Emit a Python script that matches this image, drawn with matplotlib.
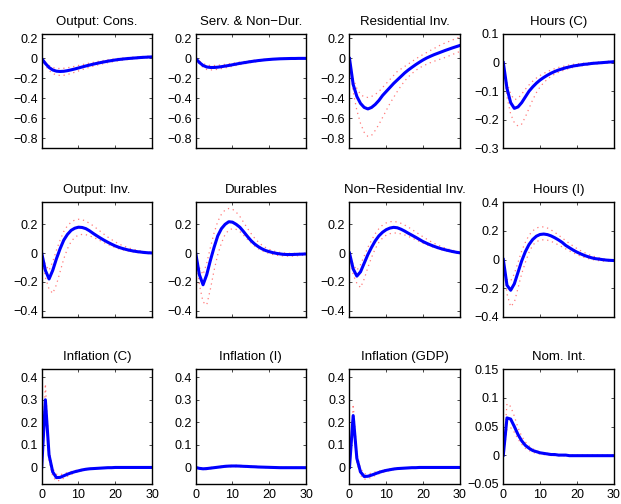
import matplotlib
matplotlib.use("Agg")
import matplotlib.pyplot as plt
import numpy as np
from matplotlib.ticker import FuncFormatter

plt.rcParams['font.family'] = ['Liberation Sans', 'DejaVu Sans']

t = np.arange(31)

titles = ['Output: Cons.', 'Serv. & Non\u2212Dur.', 'Residential Inv.', 'Hours (C)',
          'Output: Inv.', 'Durables', 'Non\u2212Residential Inv.', 'Hours (I)',
          'Inflation (C)', 'Inflation (I)', 'Inflation (GDP)', 'Nom. Int.']

# median responses
med_cons = [0, -0.05, -0.09, -0.115, -0.127, -0.13, -0.128, -0.122, -0.114, -0.105, -0.095, -0.085, -0.075, -0.066, -0.057, -0.049, -0.041, -0.034, -0.027, -0.021, -0.015, -0.010, -0.006, -0.002, 0.001, 0.004, 0.007, 0.010, 0.012, 0.014, 0.016]
med_serv = [0, -0.04, -0.07, -0.085, -0.09, -0.09, -0.087, -0.082, -0.076, -0.07, -0.063, -0.056, -0.049, -0.043, -0.037, -0.031, -0.026, -0.021, -0.017, -0.013, -0.01, -0.007, -0.005, -0.003, -0.002, -0.001, 0, 0, 0.001, 0.001, 0.001]
med_res = [0, -0.26, -0.38, -0.45, -0.49, -0.505, -0.49, -0.46, -0.42, -0.37, -0.33, -0.29, -0.25, -0.215, -0.18, -0.145, -0.115, -0.088, -0.062, -0.038, -0.015, 0.005, 0.022, 0.038, 0.052, 0.066, 0.08, 0.093, 0.106, 0.118, 0.13]
med_hc = [0, -0.09, -0.14, -0.16, -0.155, -0.14, -0.12, -0.1, -0.085, -0.072, -0.061, -0.052, -0.044, -0.037, -0.031, -0.026, -0.022, -0.018, -0.015, -0.012, -0.01, -0.008, -0.006, -0.005, -0.003, -0.002, -0.001, 0, 0.001, 0.002, 0.003]
med_inv = [0, -0.12, -0.18, -0.12, -0.04, 0.03, 0.09, 0.13, 0.158, 0.173, 0.18, 0.178, 0.17, 0.155, 0.137, 0.12, 0.104, 0.089, 0.075, 0.062, 0.05, 0.04, 0.032, 0.025, 0.019, 0.014, 0.01, 0.007, 0.004, 0.002, 0.001]
med_dur = [0, -0.15, -0.22, -0.15, -0.05, 0.04, 0.12, 0.17, 0.2, 0.218, 0.215, 0.2, 0.18, 0.15, 0.118, 0.088, 0.064, 0.045, 0.03, 0.018, 0.01, 0.003, -0.002, -0.006, -0.009, -0.01, -0.01, -0.009, -0.008, -0.007, -0.006]
med_nres = [0, -0.11, -0.16, -0.13, -0.07, -0.01, 0.04, 0.085, 0.12, 0.145, 0.163, 0.174, 0.179, 0.176, 0.166, 0.153, 0.138, 0.124, 0.11, 0.095, 0.08, 0.068, 0.057, 0.047, 0.038, 0.03, 0.023, 0.017, 0.011, 0.006, 0.002]
med_hi = [0, -0.18, -0.215, -0.17, -0.09, -0.01, 0.055, 0.105, 0.14, 0.163, 0.175, 0.178, 0.174, 0.165, 0.152, 0.137, 0.12, 0.098, 0.082, 0.066, 0.052, 0.04, 0.029, 0.02, 0.012, 0.006, 0.003, -0.001, -0.004, -0.006, -0.007]
med_pic = [0, 0.3, 0.055, -0.02, -0.045, -0.044, -0.037, -0.03, -0.024, -0.019, -0.015, -0.011, -0.008, -0.006, -0.005, -0.004, -0.003, -0.002, -0.001, -0.001, 0, 0, 0, 0, 0, 0, 0, 0, 0, 0, 0]
med_pii = [0, -0.004, -0.006, -0.005, -0.003, -0.001, 0.001, 0.003, 0.005, 0.006, 0.0065, 0.0065, 0.006, 0.005, 0.0045, 0.0035, 0.003, 0.002, 0.0015, 0.001, 0.0005, 0, -0.0005, -0.001, -0.001, -0.001, -0.001, -0.001, -0.001, -0.001, -0.001]
med_pig = [0, 0.23, 0.04, -0.02, -0.04, -0.039, -0.034, -0.028, -0.022, -0.017, -0.013, -0.01, -0.007, -0.005, -0.004, -0.003, -0.002, -0.001, -0.001, 0, 0, 0, 0, 0, 0, 0, 0, 0, 0, 0, 0]
med_r = [0, 0.065, 0.063, 0.05, 0.036, 0.025, 0.017, 0.012, 0.008, 0.006, 0.004, 0.003, 0.002, 0.001, 0.001, 0, 0, 0, -0.001, -0.001, -0.001, -0.001, -0.001, -0.001, -0.001, -0.001, -0.001, -0.001, -0.001, -0.001, -0.001]

# upper bands
up_cons = [0, -0.035, -0.07, -0.09, -0.1, -0.1, -0.098, -0.093, -0.086, -0.078, -0.07, -0.062, -0.054, -0.046, -0.039, -0.032, -0.025, -0.019, -0.013, -0.008, -0.003, 0.001, 0.005, 0.008, 0.011, 0.014, 0.017, 0.019, 0.021, 0.023, 0.025]
up_serv = [0, -0.025, -0.05, -0.065, -0.07, -0.07, -0.068, -0.064, -0.059, -0.054, -0.048, -0.042, -0.036, -0.031, -0.026, -0.021, -0.017, -0.013, -0.01, -0.007, -0.005, -0.003, -0.001, 0, 0.001, 0.002, 0.003, 0.003, 0.004, 0.004, 0.004]
up_res = [0, -0.2, -0.3, -0.36, -0.385, -0.39, -0.38, -0.36, -0.33, -0.29, -0.25, -0.21, -0.17, -0.13, -0.105, -0.08, -0.055, -0.03, -0.005, 0.018, 0.04, 0.06, 0.08, 0.1, 0.12, 0.14, 0.155, 0.17, 0.185, 0.2, 0.215]
up_hc = [0, -0.07, -0.11, -0.13, -0.125, -0.11, -0.093, -0.078, -0.065, -0.054, -0.045, -0.038, -0.031, -0.026, -0.021, -0.017, -0.014, -0.011, -0.008, -0.006, -0.004, -0.003, -0.002, -0.001, 0, 0.001, 0.002, 0.003, 0.004, 0.005, 0.006]
up_inv = [0, -0.08, -0.12, -0.06, 0.02, 0.09, 0.15, 0.19, 0.215, 0.23, 0.235, 0.232, 0.222, 0.207, 0.19, 0.17, 0.15, 0.13, 0.111, 0.094, 0.078, 0.064, 0.052, 0.042, 0.033, 0.026, 0.02, 0.015, 0.011, 0.008, 0.006]
up_dur = [0, -0.1, -0.15, -0.07, 0.04, 0.14, 0.22, 0.27, 0.3, 0.31, 0.305, 0.285, 0.255, 0.215, 0.175, 0.138, 0.105, 0.078, 0.056, 0.039, 0.026, 0.016, 0.009, 0.004, 0.001, -0.001, -0.002, -0.002, -0.002, -0.001, 0]
up_nres = [0, -0.08, -0.12, -0.08, -0.02, 0.04, 0.09, 0.135, 0.17, 0.195, 0.21, 0.218, 0.22, 0.216, 0.207, 0.195, 0.18, 0.164, 0.147, 0.13, 0.113, 0.097, 0.082, 0.068, 0.056, 0.045, 0.035, 0.027, 0.02, 0.014, 0.009]
up_hi = [0, -0.14, -0.15, -0.1, -0.02, 0.06, 0.12, 0.17, 0.2, 0.22, 0.228, 0.228, 0.22, 0.207, 0.19, 0.171, 0.151, 0.131, 0.112, 0.094, 0.077, 0.062, 0.049, 0.037, 0.027, 0.019, 0.012, 0.006, 0.002, -0.001, -0.003]
up_pic = [0, 0.37, 0.08, -0.005, -0.03, -0.032, -0.028, -0.023, -0.018, -0.014, -0.011, -0.008, -0.006, -0.004, -0.003, -0.002, -0.001, -0.001, 0, 0, 0, 0, 0, 0, 0, 0, 0, 0, 0, 0, 0]
up_pii = [0, -0.001, -0.002, -0.001, 0, 0.002, 0.004, 0.006, 0.008, 0.009, 0.0095, 0.0095, 0.009, 0.008, 0.007, 0.006, 0.005, 0.004, 0.003, 0.0025, 0.002, 0.0015, 0.001, 0.0005, 0, 0, 0, 0, 0, 0, 0]
up_pig = [0, 0.28, 0.06, -0.005, -0.028, -0.029, -0.025, -0.02, -0.016, -0.012, -0.009, -0.007, -0.005, -0.003, -0.002, -0.001, -0.001, 0, 0, 0, 0, 0, 0, 0, 0, 0, 0, 0, 0, 0, 0]
up_r = [0, 0.09, 0.085, 0.068, 0.048, 0.033, 0.023, 0.016, 0.011, 0.008, 0.005, 0.004, 0.003, 0.002, 0.001, 0.001, 0, 0, 0, 0, 0, 0, 0, 0, 0, 0, 0, 0, 0, 0, 0]

# lower bands
lo_cons = [0, -0.07, -0.12, -0.15, -0.165, -0.17, -0.168, -0.16, -0.15, -0.138, -0.125, -0.112, -0.1, -0.088, -0.077, -0.067, -0.058, -0.05, -0.042, -0.035, -0.028, -0.022, -0.017, -0.012, -0.008, -0.004, -0.001, 0.002, 0.004, 0.006, 0.008]
lo_serv = [0, -0.055, -0.09, -0.11, -0.115, -0.113, -0.108, -0.101, -0.094, -0.086, -0.078, -0.07, -0.062, -0.055, -0.048, -0.041, -0.035, -0.029, -0.024, -0.019, -0.015, -0.011, -0.009, -0.006, -0.005, -0.004, -0.003, -0.003, -0.002, -0.002, -0.002]
lo_res = [0, -0.33, -0.52, -0.65, -0.74, -0.78, -0.77, -0.72, -0.66, -0.59, -0.52, -0.45, -0.39, -0.33, -0.275, -0.225, -0.185, -0.15, -0.12, -0.095, -0.075, -0.058, -0.042, -0.028, -0.015, -0.003, 0.01, 0.025, 0.04, 0.055, 0.07]
lo_hc = [0, -0.12, -0.18, -0.21, -0.222, -0.215, -0.19, -0.16, -0.13, -0.105, -0.085, -0.07, -0.058, -0.048, -0.04, -0.034, -0.029, -0.024, -0.02, -0.017, -0.014, -0.012, -0.01, -0.008, -0.006, -0.005, -0.004, -0.003, -0.002, -0.001, 0]
lo_inv = [0, -0.17, -0.25, -0.28, -0.22, -0.13, -0.04, 0.03, 0.08, 0.11, 0.125, 0.13, 0.128, 0.12, 0.11, 0.098, 0.085, 0.072, 0.06, 0.049, 0.039, 0.03, 0.023, 0.017, 0.012, 0.008, 0.004, 0.001, -0.001, -0.003, -0.004]
lo_dur = [0, -0.22, -0.34, -0.36, -0.25, -0.12, -0.01, 0.07, 0.13, 0.16, 0.17, 0.165, 0.15, 0.125, 0.098, 0.072, 0.05, 0.031, 0.017, 0.006, -0.003, -0.01, -0.015, -0.018, -0.02, -0.021, -0.021, -0.02, -0.018, -0.016, -0.014]
lo_nres = [0, -0.15, -0.21, -0.24, -0.18, -0.1, -0.03, 0.03, 0.075, 0.105, 0.125, 0.135, 0.14, 0.139, 0.134, 0.126, 0.116, 0.105, 0.093, 0.081, 0.069, 0.058, 0.048, 0.039, 0.031, 0.023, 0.016, 0.01, 0.005, 0.001, -0.003]
lo_hi = [0, -0.24, -0.33, -0.3, -0.2, -0.1, -0.02, 0.05, 0.1, 0.125, 0.135, 0.138, 0.135, 0.127, 0.115, 0.102, 0.088, 0.074, 0.06, 0.047, 0.035, 0.024, 0.015, 0.007, 0.001, -0.004, -0.008, -0.011, -0.012, -0.013, -0.013]
lo_pic = [0, 0.25, 0.03, -0.04, -0.06, -0.057, -0.048, -0.039, -0.031, -0.024, -0.018, -0.014, -0.01, -0.008, -0.006, -0.004, -0.003, -0.002, -0.001, -0.001, 0, 0, 0, 0, 0, 0, 0, 0, 0, 0, 0]
lo_pii = [0, -0.007, -0.01, -0.009, -0.006, -0.004, -0.002, 0, 0.002, 0.003, 0.0035, 0.0035, 0.003, 0.002, 0.002, 0.001, 0.001, 0, 0, -0.0005, -0.001, -0.0015, -0.002, -0.002, -0.002, -0.002, -0.002, -0.002, -0.002, -0.002, -0.002]
lo_pig = [0, 0.19, 0.02, -0.035, -0.052, -0.05, -0.043, -0.035, -0.028, -0.022, -0.017, -0.013, -0.01, -0.007, -0.005, -0.004, -0.003, -0.002, -0.001, -0.001, 0, 0, 0, 0, 0, 0, 0, 0, 0, 0, 0]
lo_r = [0, 0.045, 0.048, 0.04, 0.028, 0.019, 0.012, 0.008, 0.005, 0.003, 0.002, 0.001, 0, 0, -0.001, -0.001, -0.001, -0.001, -0.001, -0.001, -0.001, -0.001, -0.001, -0.001, -0.001, -0.001, -0.001, -0.001, -0.001, -0.001, -0.001]

medians = [med_cons, med_serv, med_res, med_hc, med_inv, med_dur, med_nres, med_hi,
           med_pic, med_pii, med_pig, med_r]
uppers = [up_cons, up_serv, up_res, up_hc, up_inv, up_dur, up_nres, up_hi,
          up_pic, up_pii, up_pig, up_r]
lowers = [lo_cons, lo_serv, lo_res, lo_hc, lo_inv, lo_dur, lo_nres, lo_hi,
          lo_pic, lo_pii, lo_pig, lo_r]

ylims = [(-0.9, 0.245), (-0.9, 0.245), (-0.9, 0.245), (-0.3, 0.1),
         (-0.442, 0.353), (-0.442, 0.353), (-0.442, 0.353), (-0.4, 0.4),
         (-0.072, 0.435), (-0.072, 0.435), (-0.072, 0.435), (-0.05, 0.15)]
yticks = [[-0.8, -0.6, -0.4, -0.2, 0, 0.2]] * 3 + [[-0.3, -0.2, -0.1, 0, 0.1]] + \
         [[-0.4, -0.2, 0, 0.2]] * 3 + [[-0.4, -0.2, 0, 0.2, 0.4]] + \
         [[0, 0.1, 0.2, 0.3, 0.4]] * 3 + [[-0.05, 0, 0.05, 0.1, 0.15]]

fmt = FuncFormatter(lambda v, p: ('%g' % round(v, 4)).replace('-', '\u2212'))

W, H = 621, 504
fig = plt.figure(figsize=(W / 100, H / 100), dpi=100)
lefts = [41.7, 195.7, 349.5, 503.3]
tops = [34, 202.3, 369.3]
aw, ah = 110.3, 114.4

for i in range(12):
    r, c = divmod(i, 4)
    ax = fig.add_axes([lefts[c] / W, 1 - (tops[r] + ah) / H, aw / W, ah / H])
    ax.plot(t, uppers[i], color=(1, 0.35, 0.35), lw=0.9, dashes=(1, 3), alpha=0.8)
    ax.plot(t, lowers[i], color=(1, 0.35, 0.35), lw=0.9, dashes=(1, 3), alpha=0.8)
    ax.plot(t, medians[i], color='blue', lw=2.2)
    ax.set_xlim(0, 30)
    ax.set_ylim(*ylims[i])
    ax.set_xticks([0, 10, 20, 30])
    ax.set_yticks(yticks[i])
    ax.yaxis.set_major_formatter(fmt)
    if r < 2:
        ax.set_xticklabels([])
    ax.tick_params(direction='in', length=2, width=0.5, top=True, right=True,
                   labelsize=9, colors='black')
    ax.tick_params(axis='y', pad=3)
    ax.tick_params(axis='x', pad=4)
    for s in ax.spines.values():
        s.set_linewidth(1.0)
    ax.set_title(titles[i], fontsize=9.5, pad=6.5)

fig.savefig('out.png', dpi=100)
